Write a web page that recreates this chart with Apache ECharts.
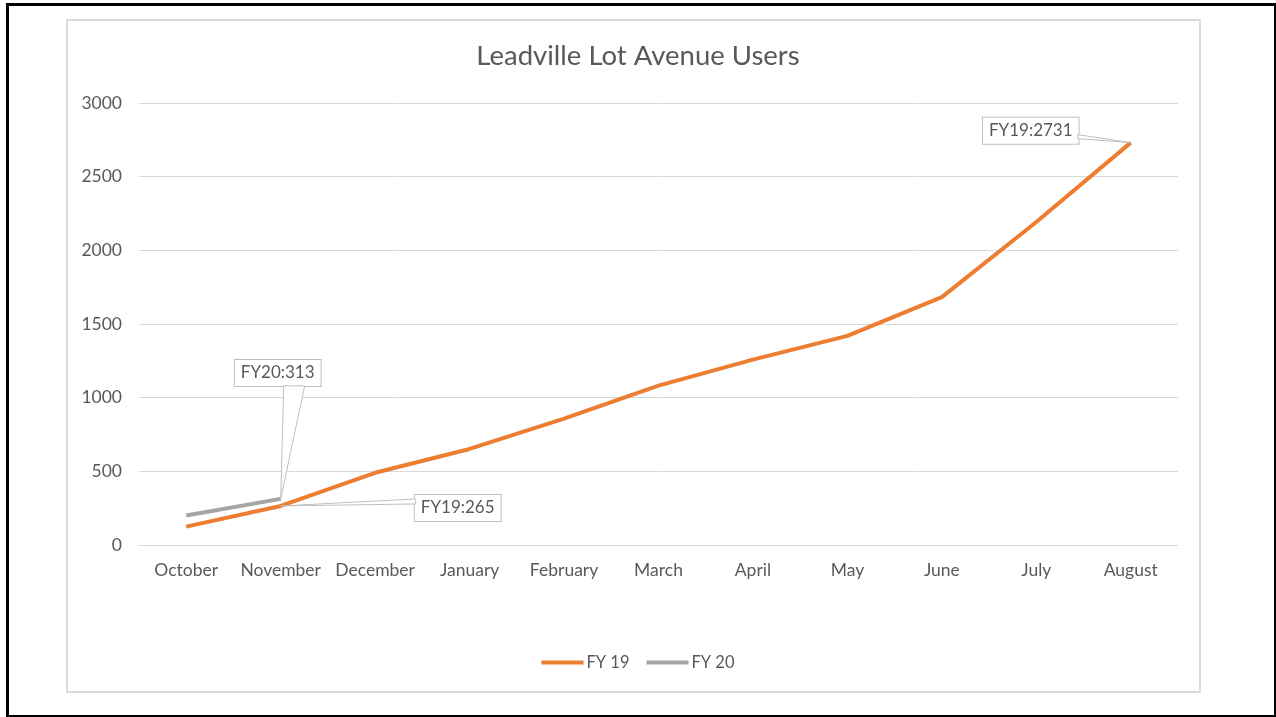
<!DOCTYPE html>
<html>
<head>
<meta charset="utf-8">
<title>Leadville Lot Avenue Users</title>
<script src="https://cdn.jsdelivr.net/npm/echarts@6/dist/echarts.min.js"></script>
<style>
  html, body { margin: 0; padding: 0; background: #fff; }
  #main { position: absolute; left: 0; top: 0; width: 1276px; height: 717px; }
  .frame { position: absolute; left: 6px; top: 3px; width: 1265px; height: 709px; border: 3px solid #000; pointer-events: none; }
  .inner { position: absolute; left: 66px; top: 19px; width: 1131px; height: 670px; border: 2px solid #d9d9d9; pointer-events: none; }
</style>
</head>
<body>
<div id="main"></div>
<div class="frame"></div>
<div class="inner"></div>
<script>
// months on the x axis
const months = ["October", "November", "December", "January", "February", "March", "April", "May", "June", "July", "August"];
// users per month
const fy19 = [125, 265, 490, 652, 858, 1082, 1258, 1419, 1682, 2192, 2731];
const fy20 = [200, 313];
// y axis ticks
const yTicks = [0, 500, 1000, 1500, 2000, 2500, 3000];

const textColor = "#595959";
const boxColor = "#bfbfbf";
const fontFamily = "Lato, 'Open Sans', sans-serif";

// callouts: box offset from the point, and the wedge base relative to the box centre
const callouts = [
  { series: 0, index: 1, offset: [177, 2], base: [[-42, -9], [-42, -4]] },
  { series: 0, index: 10, offset: [-100, -12], base: [[47, 4], [47, 8]] },
  { series: 1, index: 1, offset: [-3, -126], base: [[6, 13], [27, 13]] },
];

const labelStyle = {
  show: true,
  position: "inside",
  color: textColor,
  fontSize: 17,
  fontFamily: fontFamily,
  backgroundColor: "#fff",
  borderColor: boxColor,
  borderWidth: 1,
  padding: [5, 6, 4, 6],
};

const makeData = (values, name, seriesIndex) =>
  values.map((v, i) => {
    const c = callouts.find((d) => d.series === seriesIndex && d.index === i);
    if (!c) return v;
    return {
      value: v,
      label: Object.assign({}, labelStyle, { formatter: name.replace(" ", "") + ":" + v }),
    };
  });

const calloutLayout = (seriesIndex) => (p) => {
  const c = callouts.find((d) => d.series === seriesIndex && d.index === p.dataIndex);
  return c ? { dx: c.offset[0], dy: c.offset[1] } : {};
};

const chart = echarts.init(document.getElementById("main"));

chart.setOption({
  animation: false,
  textStyle: { fontFamily: fontFamily },
  title: {
    text: "Leadville Lot Avenue Users",
    left: "center",
    top: 37,
    textStyle: { color: textColor, fontSize: 27.5, fontWeight: "normal", fontFamily: fontFamily },
  },
  legend: {
    bottom: 41,
    left: "center",
    icon: "rect",
    itemWidth: 42,
    itemHeight: 4,
    itemGap: 17,
    textStyle: { color: textColor, fontSize: 16.5, padding: [0, 0, 0, -2] },
    data: ["FY 19", "FY 20"],
  },
  grid: { left: 139, right: 98, top: 103, bottom: 172, containLabel: false },
  xAxis: {
    type: "category",
    data: months,
    boundaryGap: true,
    axisLine: { lineStyle: { color: "#d9d9d9", width: 1 } },
    axisTick: { show: false },
    axisLabel: { color: textColor, fontSize: 17.5, margin: 16, interval: 0 },
  },
  yAxis: {
    type: "value",
    min: yTicks[0],
    max: yTicks[yTicks.length - 1],
    interval: yTicks[1] - yTicks[0],
    axisLine: { show: false },
    axisTick: { show: false },
    axisLabel: { color: textColor, fontSize: 17.5, margin: 17, formatter: (v) => String(v) },
    splitLine: { lineStyle: { color: "#d9d9d9", width: 1 } },
  },
  series: [
    {
      name: "FY 19",
      type: "line",
      data: makeData(fy19, "FY 19", 0),
      showSymbol: true,
      symbol: "circle",
      symbolSize: 0,
      lineStyle: { color: "#ed7d31", width: 4 },
      itemStyle: { color: "#ed7d31" },
      z: 2,
      labelLayout: calloutLayout(0),
    },
    {
      name: "FY 20",
      type: "line",
      data: makeData(fy20, "FY 20", 1),
      showSymbol: true,
      symbol: "circle",
      symbolSize: 0,
      lineStyle: { color: "#a5a5a5", width: 4 },
      itemStyle: { color: "#a5a5a5" },
      z: 3,
      labelLayout: calloutLayout(1),
    },
  ],
});

// callout wedges, placed from the chart's own scales
const seriesData = [fy19, fy20];
const wedges = callouts.map((c) => {
  const pt = chart.convertToPixel({ seriesIndex: c.series }, [c.index, seriesData[c.series][c.index]]);
  const cx = pt[0] + c.offset[0];
  const cy = pt[1] + c.offset[1];
  return {
    type: "polygon",
    z: 10,
    shape: {
      points: [
        [cx + c.base[0][0], cy + c.base[0][1]],
        pt,
        [cx + c.base[1][0], cy + c.base[1][1]],
      ],
    },
    style: { fill: "#fff", stroke: boxColor, lineWidth: 1 },
  };
});
chart.setOption({ graphic: wedges });

window.addEventListener("resize", () => chart.resize());
</script>
</body>
</html>
